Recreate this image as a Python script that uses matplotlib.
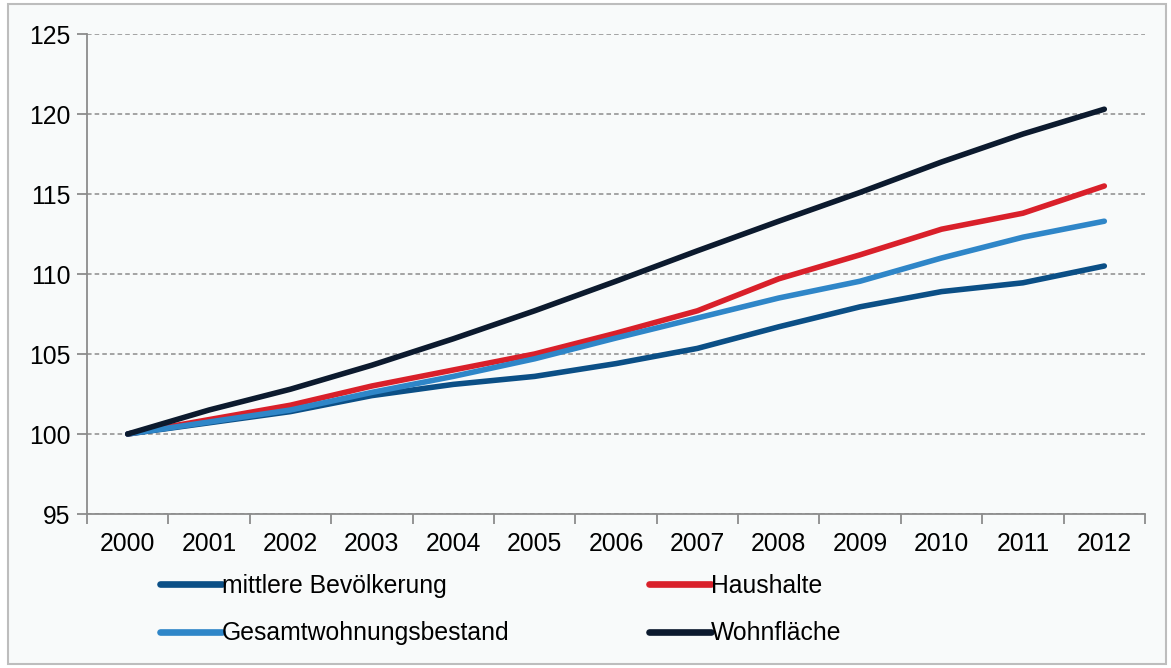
import numpy as np
import matplotlib.pyplot as plt
from matplotlib.patches import Rectangle

plt.rcParams["font.family"] = ["Liberation Sans", "DejaVu Sans"]

# index values, 2000 = 100
years = ["2000", "2001", "2002", "2003", "2004", "2005", "2006",
         "2007", "2008", "2009", "2010", "2011", "2012"]
bevoelkerung = [100, 100.7, 101.4, 102.4, 103.1, 103.6, 104.4,
                105.35, 106.7, 107.95, 108.9, 109.45, 110.5]
haushalte = [100, 100.9, 101.8, 103.0, 104.0, 105.0, 106.3,
             107.7, 109.7, 111.2, 112.8, 113.8, 115.5]
wohnungsbestand = [100, 100.75, 101.5, 102.6, 103.6, 104.7, 106.0,
                   107.25, 108.5, 109.55, 111.0, 112.3, 113.3]
wohnflaeche = [100, 101.5, 102.8, 104.3, 105.95, 107.7, 109.55,
               111.45, 113.3, 115.1, 117.0, 118.75, 120.3]
y_ticks = [95, 100, 105, 110, 115, 120, 125]

series = [
    ("mittlere Bevölkerung", bevoelkerung, "#0B4F86"),
    ("Haushalte", haushalte, "#D9202A"),
    ("Gesamtwohnungsbestand", wohnungsbestand, "#2F86C8"),
    ("Wohnfläche", wohnflaeche, "#0C1A2E"),
]

FS = 17.8
W, H = 1171, 668
fig = plt.figure(figsize=(W / 100, H / 100), dpi=100, facecolor="white")

# light panel with grey frame
fig.patches.append(Rectangle((8 / W, 4 / H), 1158 / W, 660 / H,
                             transform=fig.transFigure, facecolor="#F8FAFA",
                             edgecolor="#BDBDBD", linewidth=1.5, zorder=-10))

ax = fig.add_axes([87 / W, 1 - 514 / H, (1145 - 87) / W, (514 - 34) / H])
ax.set_facecolor("none")

x = np.arange(len(years))
for label, vals, col in series:
    ax.plot(x, vals, color=col, linewidth=4.0, solid_capstyle="round",
            label=label, zorder=3)

ax.set_xlim(-0.5, len(years) - 0.5)
ax.set_ylim(95, 125)
ax.set_yticks(y_ticks)
ax.yaxis.grid(True, color="#8C8C8C", linestyle=(0, (3, 2)), linewidth=1.1)
ax.set_axisbelow(True)

# category axis: labels centred, tick marks between categories
ax.set_xticks(x)
ax.set_xticklabels(years)
ax.tick_params(axis="x", which="major", length=0, pad=13, labelsize=FS)
ax.set_xticks(np.arange(-0.5, len(years)), minor=True)
ax.tick_params(axis="x", which="minor", length=7, width=1.3, color="#8C8C8C")
ax.tick_params(axis="y", length=7, width=1.3, color="#8C8C8C", pad=5,
               labelsize=FS)

for s in ["top", "right"]:
    ax.spines[s].set_visible(False)
for s in ["left", "bottom"]:
    ax.spines[s].set_color("#8C8C8C")
    ax.spines[s].set_linewidth(1.3)

handles, labels = ax.get_legend_handles_labels()
order = [0, 2, 1, 3]
leg = fig.legend([handles[i] for i in order], [labels[i] for i in order],
                 ncol=2, loc="upper left", bbox_to_anchor=(160 / W, 1 - 574 / H),
                 frameon=False, fontsize=FS, handlelength=2.5,
                 handletextpad=0.0, columnspacing=5.65, labelspacing=0.94,
                 borderpad=0, borderaxespad=0)
for line in leg.get_lines():
    line.set_linewidth(4.8)
    line.set_solid_capstyle("round")

fig.savefig("out.png", dpi=100)
